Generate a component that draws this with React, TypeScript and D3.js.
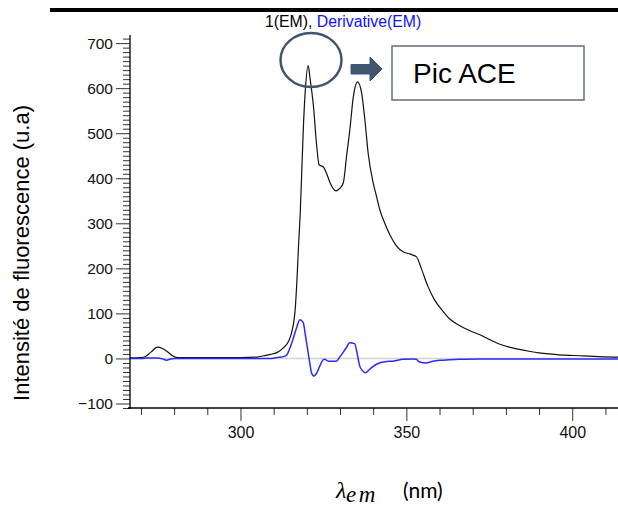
import React, { useEffect, useRef } from "react";
import * as d3 from "d3";

// EM spectrum (black)
const emWavelength = [
  266.7, 270, 271.5, 273, 275, 276.5, 278, 279.5, 281, 285, 290, 295, 300, 305, 307, 309, 311, 313,
  314.5, 315.5, 316.5, 317, 317.5, 318, 318.5, 319, 319.5, 320.4, 321, 322, 323, 323.7, 325, 326,
  327, 328.8, 330, 331, 332, 333, 334, 335.3, 336.5, 337.5, 338.5, 340, 341, 342, 343.5, 345, 347,
  349, 351, 353, 354.5, 356.5, 358.5, 361, 363, 366, 369, 372, 375, 378, 381, 384, 387, 390, 393,
  396, 399, 402, 405, 408, 410, 413.8,
];
const emIntensity = [
  1.5, 2, 5, 14, 25, 22, 15, 6, 2, 2, 2, 2, 2, 3, 6, 9, 13, 24,
  38, 60, 110, 170, 250, 320, 420, 520, 590, 650, 620, 560, 470, 430, 425, 410,
  390, 372, 378, 390, 450, 510, 580, 614, 590, 530, 455, 390, 360, 330, 300, 275, 250,
  237, 232, 226, 200, 160, 130, 105, 88, 73, 62, 53, 42, 32, 25, 20, 16, 12.5, 10,
  8, 7, 6, 5, 4, 3.5, 3,
];

// Derivative(EM) (blue)
const derWavelength = [
  266.7, 270, 272, 275, 276.5, 277.7, 279, 280, 300, 309, 311, 313, 314, 315, 315.8, 317, 317.9,
  318.9, 319.6, 320.4, 321, 321.4, 322.2, 323, 323.9, 324.8, 325.4, 326.5, 328.9, 330, 330.9, 332,
  332.9, 334.4, 335.2, 335.9, 336.8, 337.7, 338.8, 339.9, 341.9, 344, 346, 349, 352, 353, 354, 356,
  358, 360, 363, 366, 372, 380, 413.8,
];
const derIntensity = [
  0, 0, 1, 1, -1, -4, -1, 0, 0, 0, 2, 4, 8, 25, 42, 70, 86,
  80, 50, 13, -15, -32, -39, -32, -17, -4, -2, -6, -6, 4, 13, 25,
  35, 33, 10, -16, -27, -32, -25, -18, -10, -7, -6, -2, -1, -2, -8, -10,
  -6, -4, -3, -2, -1, -1, -1,
];

const xMajorTicks = [300, 350, 400];
const xMinorTicks = [270, 280, 290, 310, 320, 330, 340, 360, 370, 380, 390, 410];
const yMajorTicks = [-100, 0, 100, 200, 300, 400, 500, 600, 700];
const yMinorTicks = d3.range(-110, 711, 10).filter((v) => v % 100 !== 0);

const sans = "'Liberation Sans', Arial, sans-serif";

const App = () => {
  const svgRef = useRef<SVGSVGElement>(null);

  useEffect(() => {
    const svg = d3.select(svgRef.current);
    svg.selectAll("*").remove();

    const x = d3.scaleLinear().domain([266.7, 413.8]).range([130, 618]);
    const y = d3.scaleLinear().domain([-110, 718]).range([408, 35]);

    // thick rule at the top
    svg.append("line").attr("x1", 50).attr("x2", 618).attr("y1", 10).attr("y2", 10)
      .attr("stroke", "#000").attr("stroke-width", 4);

    // title
    const title = svg.append("text").attr("x", 265).attr("y", 27)
      .attr("font-family", sans).attr("font-size", 15.8);
    title.append("tspan").attr("fill", "#000").text("1(EM), ");
    title.append("tspan").attr("fill", "#1010ff").text("Derivative(EM)");

    svg.append("defs").append("clipPath").attr("id", "plot")
      .append("rect").attr("x", 130).attr("y", 30).attr("width", 488).attr("height", 380);

    // zero line
    svg.append("line").attr("x1", 130).attr("x2", 618).attr("y1", y(0)).attr("y2", y(0))
      .attr("stroke", "#d4d4d4").attr("stroke-width", 1.5);

    const path = d3.line().curve(d3.curveMonotoneX);
    const emPts = emWavelength.map((w, i) => [x(w), y(emIntensity[i])] as [number, number]);
    const derPts = derWavelength.map((w, i) => [x(w), y(derIntensity[i])] as [number, number]);

    const plot = svg.append("g").attr("clip-path", "url(#plot)");
    plot.append("path").attr("d", path(emPts)).attr("fill", "none")
      .attr("stroke", "#111").attr("stroke-width", 1.2);
    plot.append("path").attr("d", path(derPts)).attr("fill", "none")
      .attr("stroke", "#2a2aff").attr("stroke-width", 1.5);

    // y axis: minor and major ticks in separate groups
    const gyMinor = svg.append("g").attr("transform", "translate(130,0)");
    gyMinor.call(d3.axisLeft(y).tickValues(yMinorTicks).tickSize(7).tickSizeOuter(0).tickFormat(() => ""));
    const gy = svg.append("g").attr("transform", "translate(130,0)");
    gy.call(d3.axisLeft(y).tickValues(yMajorTicks).tickSize(14).tickSizeOuter(0).tickPadding(3));
    [gyMinor, gy].forEach((g) => {
      g.selectAll(".domain").remove();
      g.selectAll("line").attr("stroke", "#333");
    });
    gy.selectAll("text").attr("font-family", sans).attr("font-size", 15.5).attr("fill", "#111");
    svg.append("line").attr("x1", 130).attr("x2", 130).attr("y1", 35).attr("y2", 409)
      .attr("stroke", "#000").attr("stroke-width", 1.3);

    // x axis
    const gxMinor = svg.append("g").attr("transform", "translate(0,408)");
    gxMinor.call(d3.axisBottom(x).tickValues(xMinorTicks).tickSize(7).tickSizeOuter(0).tickFormat(() => ""));
    const gx = svg.append("g").attr("transform", "translate(0,408)");
    gx.call(d3.axisBottom(x).tickValues(xMajorTicks).tickSize(13).tickSizeOuter(0).tickPadding(6));
    [gxMinor, gx].forEach((g) => {
      g.selectAll(".domain").remove();
      g.selectAll("line").attr("stroke", "#333");
    });
    gx.selectAll("text").attr("font-family", sans).attr("font-size", 16).attr("fill", "#111");
    svg.append("line").attr("x1", 128).attr("x2", 618).attr("y1", 408).attr("y2", 408)
      .attr("stroke", "#000").attr("stroke-width", 1.3);

    // axis titles
    svg.append("text").attr("transform", "translate(29,253) rotate(-90)")
      .attr("text-anchor", "middle").attr("font-family", sans).attr("font-size", 22)
      .attr("fill", "#000").text("Intensité de fluorescence (u.a)");

    const xl = svg.append("text").attr("y", 498).attr("fill", "#000");
    xl.append("tspan").attr("x", 336).attr("font-family", "'Liberation Serif', serif")
      .attr("font-style", "italic").attr("font-size", 24).text("λ");
    xl.append("tspan").attr("x", 346).attr("dy", 4).attr("font-family", "'Liberation Serif', serif")
      .attr("font-style", "italic").attr("font-size", 23).attr("letter-spacing", 2.5).text("em");
    xl.append("tspan").attr("x", 403).attr("dy", -4).attr("font-family", "Lato, 'Open Sans', sans-serif")
      .attr("font-size", 21).text("(nm)");

    // annotation: circle on first peak, arrow and box
    svg.append("ellipse").attr("cx", 311).attr("cy", 60).attr("rx", 30.5).attr("ry", 27)
      .attr("fill", "none").attr("stroke", "#44546a").attr("stroke-width", 2.5);
    svg.append("path")
      .attr("d", "M351,64.5 L370,64.5 L370,57 L382,69 L370,81 L370,74 L351,74 Z")
      .attr("fill", "#44546a").attr("stroke", "#2f5597").attr("stroke-width", 1);
    svg.append("rect").attr("x", 392).attr("y", 46).attr("width", 192).attr("height", 54)
      .attr("fill", "#fff").attr("stroke", "#5f6f84").attr("stroke-width", 1.5);
    svg.append("text").attr("x", 413).attr("y", 83).attr("font-family", sans)
      .attr("font-size", 28).attr("fill", "#000").text("Pic ACE");
  }, []);

  return (
    <svg
      ref={svgRef}
      width={618}
      height={513}
      style={{ position: "absolute", left: 0, top: 0, background: "#fff" }}
    />
  );
};

export default App;
